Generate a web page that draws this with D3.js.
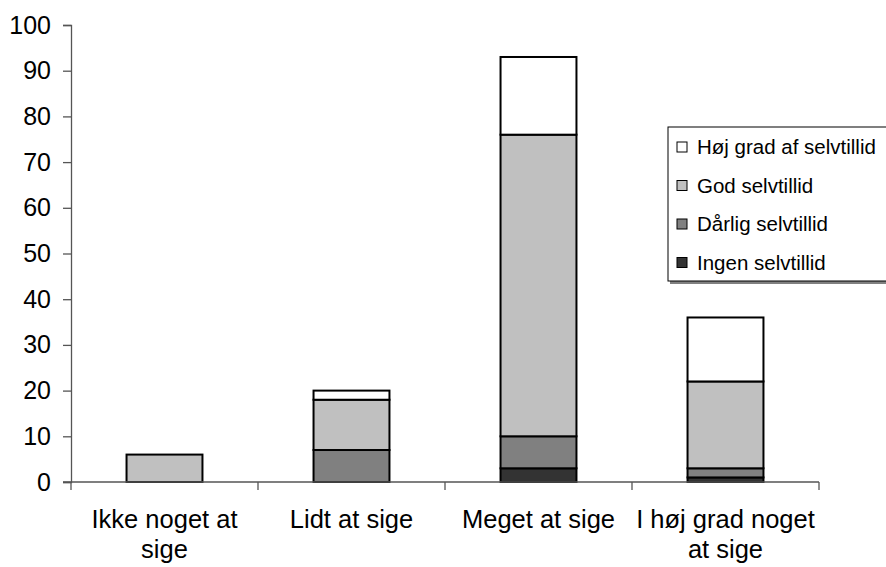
<!DOCTYPE html>
<html>
<head>
<meta charset="utf-8">
<script src="https://cdn.jsdelivr.net/npm/d3@7"></script>
<style>
  html, body { margin: 0; padding: 0; background: #fff; }
  svg { display: block; font-family: "Liberation Sans", Arial, sans-serif; }
</style>
</head>
<body>
<div id="chart"></div>
<script>
const categories = ["Ikke noget at sige", "Lidt at sige", "Meget at sige", "I høj grad noget at sige"];
const seriesNames = ["Ingen selvtillid", "Dårlig selvtillid", "God selvtillid", "Høj grad af selvtillid"];
const ingen = [0, 0, 3, 1];
const daarlig = [0, 7, 7, 2];
const god = [6, 11, 66, 19];
const hoej = [0, 2, 17, 14];
const yTicks = [0, 10, 20, 30, 40, 50, 60, 70, 80, 90, 100];
const colors = ["#333333", "#808080", "#c0c0c0", "#ffffff"];

const width = 886, height = 567;
const margin = { top: 25, right: 67, bottom: 85, left: 71 };

const rows = categories.map((c, i) => ({
  cat: c,
  "Ingen selvtillid": ingen[i],
  "Dårlig selvtillid": daarlig[i],
  "God selvtillid": god[i],
  "Høj grad af selvtillid": hoej[i]
}));

const svg = d3.select("#chart").append("svg")
  .attr("width", width)
  .attr("height", height);

const x = d3.scaleBand()
  .domain(categories)
  .range([margin.left, width - margin.right])
  .paddingInner(0.594)
  .paddingOuter(0.297);

const y = d3.scaleLinear()
  .domain([0, 100])
  .range([height - margin.bottom, margin.top]);

const color = d3.scaleOrdinal().domain(seriesNames).range(colors);

const stacked = d3.stack().keys(seriesNames)(rows);

// bars
svg.append("g")
  .selectAll("g")
  .data(stacked)
  .join("g")
  .attr("fill", d => color(d.key))
  .selectAll("rect")
  .data(d => d.filter(p => p[1] - p[0] > 0))
  .join("rect")
  .attr("x", d => x(d.data.cat))
  .attr("y", d => y(d[1]))
  .attr("width", x.bandwidth())
  .attr("height", d => y(d[0]) - y(d[1]))
  .attr("stroke", "#000")
  .attr("stroke-width", 2);

// y axis
const yAxis = svg.append("g")
  .attr("transform", `translate(${margin.left},0)`)
  .call(d3.axisLeft(y).tickValues(yTicks).tickSize(8).tickPadding(12));
yAxis.selectAll("line, path").attr("stroke", "#555").attr("stroke-width", 1.3);
yAxis.selectAll("text").attr("font-size", 25).attr("fill", "#000")
  .attr("font-family", "Liberation Sans, Arial, sans-serif");

// x axis: baseline + boundary ticks
const y0 = y(0);
const xAxis = svg.append("g");
xAxis.append("line")
  .attr("x1", margin.left - 8).attr("x2", width - margin.right)
  .attr("y1", y0).attr("y2", y0)
  .attr("stroke", "#555").attr("stroke-width", 1.3);
const bounds = d3.range(categories.length + 1).map(i => margin.left + i * x.step());
xAxis.selectAll(".bt")
  .data(bounds)
  .join("line")
  .attr("x1", d => d).attr("x2", d => d)
  .attr("y1", y0).attr("y2", y0 + 8)
  .attr("stroke", "#555").attr("stroke-width", 1.3);

// category labels, wrapped to band step
const labels = xAxis.selectAll(".cl")
  .data(categories)
  .join("text")
  .attr("text-anchor", "middle")
  .attr("font-size", 25.5)
  .attr("fill", "#000")
  .attr("y", y0 + 46);

labels.each(function(d) {
  const t = d3.select(this);
  const cx = x(d) + x.bandwidth() / 2;
  const words = d.split(" ");
  let line = [];
  let tspan = t.append("tspan").attr("x", cx).attr("dy", 0);
  words.forEach(w => {
    line.push(w);
    tspan.text(line.join(" "));
    if (tspan.node().getComputedTextLength() > x.step() - 6 && line.length > 1) {
      line.pop();
      tspan.text(line.join(" "));
      line = [w];
      tspan = t.append("tspan").attr("x", cx).attr("dy", 30).text(w);
    }
  });
});

// legend
const legendItems = seriesNames.slice().reverse();
const lg = svg.append("g").attr("transform", "translate(668,127)");
lg.append("rect")
  .attr("x", 2).attr("y", 2)
  .attr("width", 230).attr("height", 155)
  .attr("fill", "#808080");
lg.append("rect")
  .attr("width", 230).attr("height", 154)
  .attr("fill", "#fff")
  .attr("stroke", "#000")
  .attr("stroke-width", 1);

const li = lg.selectAll(".li")
  .data(legendItems)
  .join("g")
  .attr("transform", (d, i) => `translate(0,${20 + i * 38.5})`);
li.append("rect")
  .attr("x", 9).attr("y", -5)
  .attr("width", 10).attr("height", 10)
  .attr("fill", d => color(d))
  .attr("stroke", "#000")
  .attr("stroke-width", 1);
li.append("text")
  .attr("x", 29)
  .attr("dy", "0.35em")
  .attr("font-size", 20.5)
  .attr("fill", "#000")
  .text(d => d);
</script>
</body>
</html>
